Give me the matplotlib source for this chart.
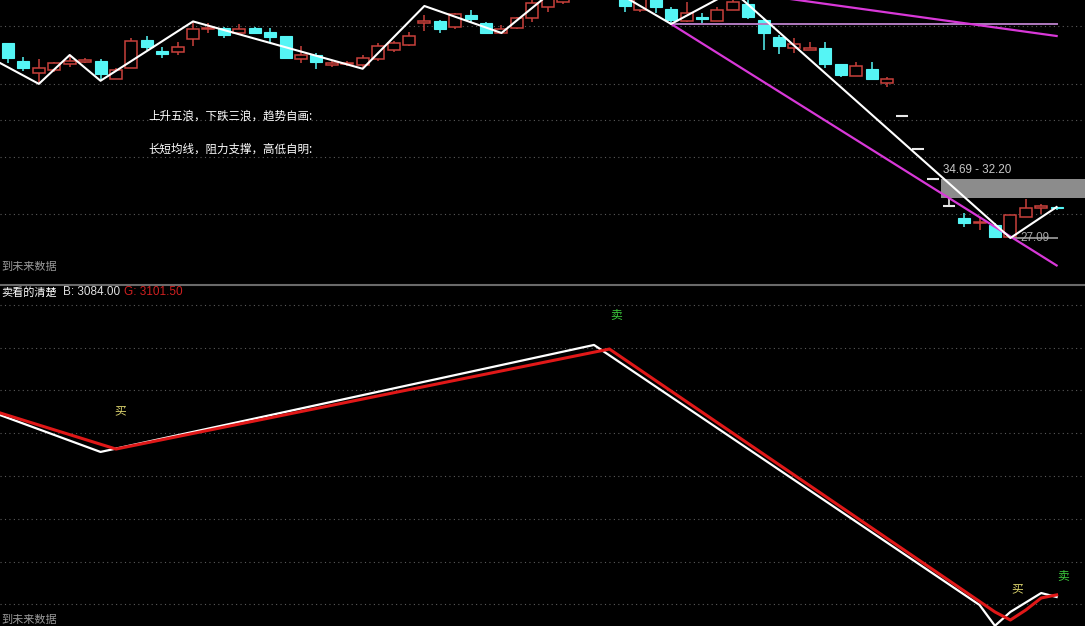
import matplotlib
matplotlib.use('Agg')
import matplotlib.pyplot as plt
from matplotlib.patches import Rectangle
from matplotlib.lines import Line2D

plt.rcParams['font.family'] = ['Noto Sans CJK SC', 'DejaVu Sans']

W, H = 1085, 626

# --- 上图: 日K线 (开 高 低 收) ---
opens = [52.22, 49.90, 48.35, 48.74, 49.51, 49.77, 49.90, 47.58, 49.00, 52.60,
         51.19, 51.06, 52.73, 54.02, 54.15, 53.51, 54.15, 53.64, 53.12, 50.16,
         50.67, 49.38, 49.51, 49.38, 50.16, 51.32, 51.96, 54.80, 55.05, 54.28,
         55.83, 54.80, 53.51, 54.15, 55.44, 56.86, 57.50, 59.20, 61.20, 60.00,
         58.40, 56.47, 58.40, 56.60, 55.05, 55.57, 55.05, 56.47, 57.24, 55.18,
         52.99, 51.57, 51.32, 51.57, 49.51, 47.97, 48.87, 47.06, 42.82, 38.54,
         34.69, 31.22, 29.67, 29.02, 28.76, 27.22, 29.80, 30.95, 31.08]
highs = [52.25, 50.41, 50.16, 49.77, 50.67, 50.29, 50.16, 49.00, 52.86, 53.12,
         51.70, 52.35, 55.00, 54.80, 54.28, 54.67, 54.28, 54.15, 53.12, 51.83,
         50.93, 49.90, 49.90, 50.67, 52.22, 52.48, 53.64, 55.83, 55.18, 56.08,
         56.47, 54.92, 54.54, 55.57, 58.02, 58.79, 59.56, 61.63, 61.50, 60.30,
         58.79, 58.53, 58.79, 56.86, 57.50, 56.08, 56.86, 58.92, 57.76, 55.44,
         53.25, 52.86, 52.35, 52.35, 49.51, 49.77, 49.77, 47.84, 42.82, 38.54,
         34.69, 32.20, 30.31, 29.67, 29.02, 30.05, 32.10, 31.47, 31.10]
lows = [49.64, 48.61, 46.95, 48.48, 49.13, 49.64, 47.35, 47.58, 49.00, 51.32,
        50.29, 50.67, 51.83, 53.51, 52.86, 53.25, 53.38, 52.35, 50.29, 49.64,
        48.87, 49.13, 49.25, 48.90, 49.90, 51.06, 51.83, 53.77, 53.51, 54.02,
        54.80, 53.38, 53.51, 54.02, 54.92, 56.21, 57.24, 58.90, 59.50, 58.20,
        56.21, 56.21, 56.08, 54.67, 54.92, 54.67, 55.05, 56.47, 55.31, 51.32,
        50.80, 50.93, 51.32, 49.00, 47.84, 47.97, 47.58, 46.55, 42.82, 38.54,
        34.69, 31.22, 28.51, 28.12, 27.15, 27.09, 29.80, 30.18, 30.70]
closes = [50.29, 49.00, 49.00, 49.64, 49.90, 50.03, 48.22, 48.74, 52.48, 51.70,
          50.80, 51.70, 54.02, 54.15, 53.25, 54.02, 53.51, 52.99, 50.29, 50.67,
          49.77, 49.64, 49.64, 50.29, 51.83, 52.22, 53.12, 55.05, 54.02, 55.96,
          55.31, 53.51, 54.02, 55.44, 57.37, 58.40, 59.05, 61.00, 60.10, 58.60,
          56.99, 58.15, 56.86, 55.18, 56.08, 55.31, 56.47, 57.50, 55.57, 53.51,
          51.83, 52.09, 51.57, 49.51, 48.09, 49.25, 47.58, 47.58, 42.82, 38.54,
          34.69, 31.22, 29.02, 29.15, 27.22, 30.05, 30.95, 31.21, 30.95]

# 波浪折线 (K线序号, 价格)
wave_idx = [-1, 2, 4, 6, 12, 23, 27, 32, 37, 43, 47, 65, 68]
wave_val = [50.16, 46.95, 50.67, 47.35, 55.00, 48.90, 56.99, 53.51, 61.63, 54.67, 58.92, 27.09, 31.08]

# 趋势线
trend_lo_idx, trend_lo_val = [43, 68], [54.67, 23.55]
trend_hi_idx, trend_hi_val = [47, 68], [58.92, 53.12]
flat_idx, flat_val = [43, 68], [54.67, 54.67]

gap_top, gap_bot = 34.69, 32.20
low_mark = 27.09

# --- 下图: B / G 线 ---
b_idx = [-1, 6, 38, 63, 64, 65, 67, 68]
b_val = [4617, 4288, 5176, 3018, 2845, 2960, 3117, 3084.00]
g_idx = [-1, 7, 39, 64, 65, 66, 67, 68]
g_val = [4631, 4312, 5142, 2960, 2893, 2976, 3076, 3101.50]

TOP_LO, TOP_HI = 21.16, 57.76
BOT_LO, BOT_HI = 2843.3, 5673.6
X_LO, X_HI = -0.519, 69.84

RED = '#c8403c'
CYAN = '#55f5f5'

fig = plt.figure(figsize=(W / 100, H / 100), dpi=100, facecolor='black')
ax1 = fig.add_axes([0, 1 - 284 / H, 1, 284 / H])
ax2 = fig.add_axes([0, 0, 1, 341 / H])
for ax in (ax1, ax2):
    ax.set_facecolor('black')
    ax.set_xlim(X_LO, X_HI)
    ax.axis('off')
ax1.set_ylim(TOP_LO, TOP_HI)
ax2.set_ylim(BOT_LO, BOT_HI)

# dotted grid
grid_style = dict(color='#5a5a5a', lw=0.8, ls=(0, (1, 3)), zorder=0)
for y in [26, 84, 120, 157, 214]:
    ax1.axhline(TOP_HI - y / 284 * (TOP_HI - TOP_LO), **grid_style)
for y in [305, 348, 390, 433, 476, 519, 562, 604]:
    ax2.axhline(BOT_HI - (y - 285) / 341 * (BOT_HI - BOT_LO), **grid_style)

# candles
bw = 0.78
for k, (o, h, l, c) in enumerate(zip(opens, highs, lows, closes)):
    if o == c:
        ax1.vlines(k, l, h, color='#e8e8e8', lw=1.2, zorder=2)
        ax1.hlines(o, k - bw / 2, k + bw / 2, color='#e8e8e8', lw=1.5, zorder=2)
    elif c > o:
        ax1.vlines(k, c, h, color=RED, lw=1.1, zorder=2)
        ax1.vlines(k, l, o, color=RED, lw=1.1, zorder=2)
        ax1.add_patch(Rectangle((k - bw / 2, o), bw, c - o, facecolor='black',
                                edgecolor=RED, lw=1.1, zorder=2))
    else:
        ax1.vlines(k, l, h, color=CYAN, lw=1.1, zorder=2)
        ax1.add_patch(Rectangle((k - bw / 2, c), bw, o - c, facecolor=CYAN,
                                edgecolor=CYAN, lw=0.8, zorder=2))

# gap box
ax1.add_patch(Rectangle((60.5, gap_bot), X_HI - 60.5, gap_top - gap_bot,
                        facecolor='#8c8c8c', edgecolor='none', zorder=1))
ax1.text(60.6, gap_top + 0.35, f'{gap_top:.2f} - {gap_bot:.2f}', color='#c8c8c8',
         fontsize=8.4, family=['Liberation Sans'], va='bottom', zorder=5)
ax1.hlines(low_mark, 65.1, 68.1, color='#a0a0a0', lw=1.2, zorder=3)
ax1.text(66.6, low_mark, f'{low_mark:.2f}', color='#a8a8a8', fontsize=8.4,
         family=['Liberation Sans'], ha='center', va='center', zorder=3)

ax1.plot(flat_idx, flat_val, color='#b07ac0', lw=1.4, zorder=3)
ax1.plot(trend_lo_idx, trend_lo_val, color='#d838d8', lw=1.6, zorder=4)
ax1.plot(trend_hi_idx, trend_hi_val, color='#d838d8', lw=1.6, zorder=4)
ax1.plot(wave_idx, wave_val, color='white', lw=1.5, zorder=4)

# bottom lines
ax2.plot(b_idx, b_val, color='white', lw=1.6, zorder=3)
ax2.plot(g_idx, g_val, color='#e01818', lw=2.2, zorder=4)


def ftext(x, y, s, **kw):
    fig.text(x / W, 1 - y / H, s, **kw)


ftext(148, 116, '上升五浪，下跌三浪，趋势自画:', color='white', fontsize=8.3, va='center')
ftext(148, 149, '长短均线，阻力支撑，高低自明:', color='white', fontsize=8.3, va='center')
ftext(1, 267, '到未来数据', color='#9a9a9a', fontsize=8, va='center')
ftext(1, 292, '卖看的清楚', color='white', fontsize=8, va='center')
ftext(63, 292, f'B: {b_val[-1]:.2f}', color='#e0e0e0', fontsize=8.5,
      family=['Liberation Sans'], va='center')
ftext(124, 292, f'G: {g_val[-1]:.2f}', color='#d02020', fontsize=8.5,
      family=['Liberation Sans'], va='center')
ftext(1, 625, '到未来数据', color='#9a9a9a', fontsize=8, va='bottom')

ftext(120, 411, '买', color='#e0d870', fontsize=8.5, ha='center', va='center')
ftext(616, 315, '卖', color='#3cc83c', fontsize=8.5, ha='center', va='center')
ftext(1017, 589, '买', color='#e0d870', fontsize=8.5, ha='center', va='center')
ftext(1063, 576, '卖', color='#3cc83c', fontsize=8.5, ha='center', va='center')

fig.add_artist(Line2D([0, 1], [1 - 284.5 / H] * 2, color='#6a6a6a', lw=1.5))

fig.savefig('out.png', dpi=100, facecolor='black')
